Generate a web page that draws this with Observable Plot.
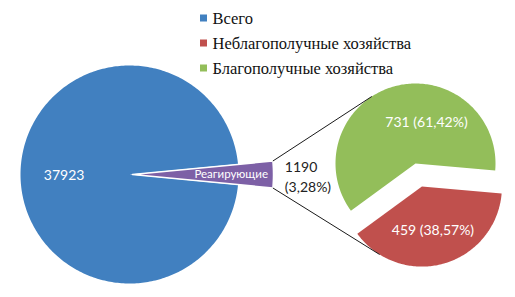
<!DOCTYPE html>
<html><head><meta charset="utf-8">
<script src="https://cdn.jsdelivr.net/npm/d3@7"></script>
<script src="https://cdn.jsdelivr.net/npm/@observablehq/plot@0.6"></script>
<style>
body{margin:0;background:#fff} #chart svg{display:block}
#chart g[aria-label="legend-text"], #chart g[aria-label="legend-text"] text { font-family: "Liberation Serif", "Times New Roman", serif !important; }
</style>
</head><body><div id="chart"></div>
<script>
// ---- data ----
const mainCategories = ["Всего", "Реагирующие"];
const mainValues = [37923, 1190];
const mainShareLabel = "3,28%";
const subCategories = ["Неблагополучные хозяйства", "Благополучные хозяйства"];
const subValues = [459, 731];
const subShareLabels = ["38,57%", "61,42%"];
const legendLabels = ["Всего", "Неблагополучные хозяйства", "Благополучные хозяйства"];
const colorDomain = ["Всего", "Реагирующие", "Неблагополучные хозяйства", "Благополучные хозяйства"];
const colorRange = ["#4180c0", "#7d60a6", "#c0504d", "#93be5a"];

// ---- layout ----
const W = 515, H = 297;
const main = {cx: 129, cy: 174, r: 109};
const otherR = 141, otherExplode = 3;
const sub = {cx: 415, cy: 163, r: 80, start: 95 * Math.PI / 180, explode: 24};
const deg = Math.PI / 180;

function pt(cx, cy, r, a) { return [cx + r * Math.sin(a), cy - r * Math.cos(a)]; }
function slicePoly(id, cat, cx, cy, r, a0, a1) {
  const pts = [{id, cat, x: cx, y: cy}];
  const n = Math.max(2, Math.ceil((a1 - a0) / deg));
  for (let i = 0; i <= n; i++) {
    const [x, y] = pt(cx, cy, r, a0 + (a1 - a0) * i / n);
    pts.push({id, cat, x, y});
  }
  return pts;
}

// main pie: "other" slice centred on the east direction
const mainTotal = d3.sum(mainValues);
const otherAngle = 2 * Math.PI * mainValues[1] / mainTotal;
const mainArcs = d3.pie().sort(null)
  .startAngle(Math.PI / 2 + otherAngle / 2)
  .endAngle(Math.PI / 2 + otherAngle / 2 + 2 * Math.PI)(mainValues);
const blueArc = mainArcs[0], otherArc = mainArcs[1];
const otherMid = (otherArc.startAngle + otherArc.endAngle) / 2;
const [ocx, ocy] = pt(main.cx, main.cy, otherExplode, otherMid);
const bluePoly = slicePoly("m0", mainCategories[0], main.cx, main.cy, main.r, blueArc.startAngle, blueArc.endAngle);
const otherPoly = slicePoly("m1", mainCategories[1], ocx, ocy, otherR, otherArc.startAngle, otherArc.endAngle);

// second pie
const subArcs = d3.pie().sort(null).startAngle(sub.start).endAngle(sub.start + 2 * Math.PI)(subValues);
const redMid = (subArcs[0].startAngle + subArcs[0].endAngle) / 2;
const [rcx, rcy] = pt(sub.cx, sub.cy, sub.explode, redMid);
const subCenters = [[rcx, rcy], [sub.cx, sub.cy]];
const subPolys = subArcs.flatMap((a, i) =>
  slicePoly("s" + i, subCategories[i], subCenters[i][0], subCenters[i][1], sub.r, a.startAngle, a.endAngle));

// connector lines: tangents from the outer corners of the "other" slice
function tangent(P, C, r, pickTop) {
  const dx = P[0] - C[0], dy = P[1] - C[1];
  const d = Math.hypot(dx, dy), phi = Math.atan2(dy, dx), al = Math.acos(r / d);
  const t1 = [C[0] + r * Math.cos(phi + al), C[1] + r * Math.sin(phi + al)];
  const t2 = [C[0] + r * Math.cos(phi - al), C[1] + r * Math.sin(phi - al)];
  return pickTop ? (t1[1] < t2[1] ? t1 : t2) : (t1[1] > t2[1] ? t1 : t2);
}
const cornerTop = pt(ocx, ocy, otherR, otherArc.startAngle);
const cornerBot = pt(ocx, ocy, otherR, otherArc.endAngle);
const tTop = tangent(cornerTop, [sub.cx, sub.cy], sub.r, true);
const tBot = tangent(cornerBot, [rcx, rcy], sub.r, false);
const connectors = [
  {x1: cornerTop[0], y1: cornerTop[1], x2: tTop[0], y2: tTop[1]},
  {x1: cornerBot[0], y1: cornerBot[1], x2: tBot[0], y2: tBot[1]}
];

// labels
const [bx, by] = pt(main.cx, main.cy, main.r * 0.6, (blueArc.startAngle + blueArc.endAngle) / 2);
const [px, py] = pt(ocx, ocy, otherR * 0.7, otherMid);
const whiteLabels = [
  {x: bx, y: by + 1, text: String(mainValues[0]), size: 14},
  {x: px, y: py, text: mainCategories[1], size: 11.5},
  {x: sub.cx + 11, y: sub.cy - 41, text: `${subValues[1]} (${subShareLabels[1]})`, size: 14},
  {x: rcx + 11, y: rcy + 44, text: `${subValues[0]} (${subShareLabels[0]})`, size: 14}
];
const otherValueLabel = [{x: cornerTop[0] + 12, y: main.cy + 1, text: `${mainValues[1]}\n(${mainShareLabel})`}];

const legendRows = legendLabels.map((l, i) => ({label: l, y: 18 + 25 * i}));

const chart = Plot.plot({
  width: W, height: H,
  marginTop: 0, marginRight: 0, marginBottom: 0, marginLeft: 0,
  x: {domain: [0, W], range: [0, W], axis: null},
  y: {domain: [0, H], range: [0, H], axis: null},
  color: {domain: colorDomain, range: colorRange},
  style: {background: "#fff", fontFamily: "Lato"},
  marks: [
    Plot.line(bluePoly, {x: "x", y: "y", z: "id", fill: "cat", stroke: null, curve: "linear-closed"}),
    Plot.line(otherPoly, {x: "x", y: "y", z: "id", fill: "cat", stroke: "white", strokeWidth: 1.5, curve: "linear-closed"}),
    Plot.line(subPolys, {x: "x", y: "y", z: "id", fill: "cat", stroke: null, curve: "linear-closed"}),
    Plot.link(connectors, {x1: "x1", y1: "y1", x2: "x2", y2: "y2", stroke: "#1a1a1a", strokeWidth: 1}),
    Plot.text(whiteLabels, {x: "x", y: "y", text: "text", fill: "white", fontSize: d => d.size, fontFamily: "Lato"}),
    Plot.text(otherValueLabel, {x: "x", y: "y", text: "text", fill: "#222", fontSize: 14, textAnchor: "start", lineHeight: 1.45, fontFamily: "Lato"}),
    Plot.rect(legendRows, {x1: 200, x2: 207, y1: d => d.y - 3.5, y2: d => d.y + 3.5, fill: "label"}),
    Plot.text(legendRows, {x: 212, y: "y", text: "label", textAnchor: "start", fontSize: 16.5, fill: "#111", ariaLabel: "legend-text", fontFamily: "Liberation Serif"})
  ]
});
document.getElementById("chart").append(chart);
</script>
</body></html>
